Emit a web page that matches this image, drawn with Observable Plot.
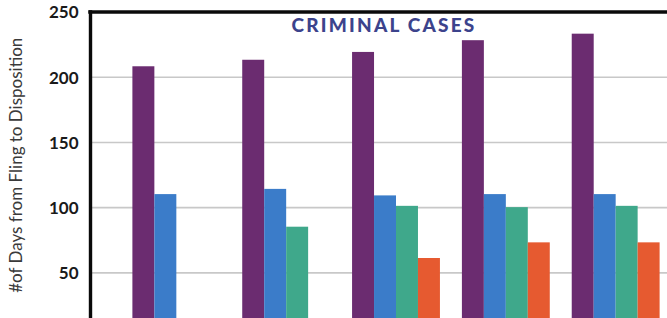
<!DOCTYPE html>
<html>
<head>
<meta charset="utf-8">
<script src="https://cdn.jsdelivr.net/npm/d3@7"></script>
<script src="https://cdn.jsdelivr.net/npm/@observablehq/plot@0.6"></script>
<style>
  html, body { margin: 0; padding: 0; background: #ffffff; overflow: hidden; }
</style>
</head>
<body>
<div id="chart"></div>
<script>
// ---- data ----
const groups = ["2008", "2009", "2010", "2011", "2012"];
const series = ["Series 1", "Series 2", "Series 3", "Series 4"];
const seriesColors = ["#6b2c70", "#3b7cc9", "#3fa88b", "#e65a30"];
const purpleValues = [208, 213, 219, 228, 233];
const blueValues = [110, 114, 109, 110, 110];
const greenValues = [null, 85, 101, 100, 101];
const orangeValues = [null, null, 61, 73, 73];
const yTicks = [50, 100, 150, 200, 250];
const gridValues = [50, 100, 150, 200];
const topValue = [250];
const title = "CRIMINAL CASES";
const yLabel = "#of Days from Fling to Disposition";

// ---- tidy table ----
const valuesBySeries = [purpleValues, blueValues, greenValues, orangeValues];
const rows = [];
groups.forEach((g, i) => series.forEach((s, j) => {
  const v = valuesBySeries[j][i];
  if (v != null) rows.push({group: g, series: s, key: `${g}|${s}`, value: v});
}));
// band domain: four series slots per group, one empty slot between groups
const xDomain = groups.flatMap((g, i) => [
  ...series.map(s => `${g}|${s}`),
  ...(i < groups.length - 1 ? [`${g}|gap`] : [])
]);

const chart = Plot.plot({
  width: 667,
  height: 318,
  marginTop: 11.5,
  marginBottom: 0,
  marginLeft: 90,
  marginRight: 0,
  style: {fontFamily: "Lato, 'Open Sans', sans-serif", background: "#ffffff"},
  x: {domain: xDomain, range: [90, 702], paddingInner: 0, paddingOuter: 1.93, round: false, axis: null},
  y: {domain: [15, 250], axis: null},
  color: {domain: series, range: seriesColors},
  marks: [
    Plot.ruleY(gridValues, {stroke: "#c8c8c8", strokeWidth: 1.6}),
    Plot.barY(rows, {x: "key", y: "value", fill: "series", clip: true}),
    Plot.ruleY(topValue, {stroke: "#0a0a0a", strokeWidth: 3.5, strokeLinecap: "square"}),
    Plot.frame({anchor: "left", stroke: "#0a0a0a", strokeWidth: 3.4, strokeLinecap: "square"}),
    Plot.axisY({ticks: yTicks, tickSize: 0, tickPadding: 12, fontSize: 17, fontWeight: 700, fill: "#1a1a1a", label: null, dy: 1}),
    Plot.axisY({ticks: [], label: yLabel, labelAnchor: "center", labelArrow: "none", labelOffset: 81, fontSize: 17, fontWeight: 400, fill: "#3a3a3a"}),
    Plot.text([title], {frameAnchor: "top", lineAnchor: "top", dx: 5, dy: 6.5, fontSize: 19, fontWeight: 900, fill: "#3c438c"})
  ]
});

chart.querySelectorAll("text").forEach(t => {
  if (t.textContent === title) t.style.letterSpacing = "2.2px";
});
document.getElementById("chart").appendChild(chart);
</script>
</body>
</html>
